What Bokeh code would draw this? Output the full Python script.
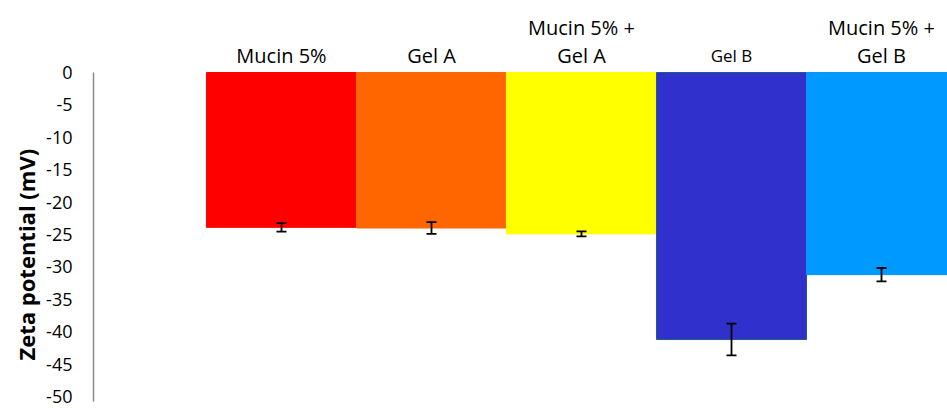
from bokeh.plotting import figure
from bokeh.models import ColumnDataSource, FixedTicker, Whisker, TeeHead, Title, Range1d
from bokeh.core.properties import value
from bokeh.embed import file_html
from bokeh.resources import INLINE

categories = ["Mucin 5%", "Gel A", "Mucin 5% +\nGel A", "Gel B", "Mucin 5% +\nGel B"]
zeta = [-23.9, -24.0, -24.9, -41.2, -31.2]
err = [0.65, 0.9, 0.38, 2.45, 1.03]
colors = ["#FF0000", "#FF6600", "#FFFF00", "#3030CC", "#0099FF"]
outlines = ["#FF0000", "#FF6600", "#FFFF00", "#1F5A8A", "#0099FF"]
label_sizes = ["20px", "20px", "20px", "17px", "20px"]
y_ticks = [0, -5, -10, -15, -20, -25, -30, -35, -40, -45, -50]
y_title = "Zeta potential  (mV)"

FONT = "Open Sans"
xs = list(range(len(categories)))

p = figure(width=947, height=408, output_backend="svg", toolbar_location=None,
           x_range=Range1d(-1.2533, 4.44), y_range=Range1d(-50.93, 11.11),
           min_border_left=93, min_border_right=0, min_border_top=0, min_border_bottom=6)
p.outline_line_color = None
p.xgrid.visible = False
p.ygrid.visible = False
p.xaxis.visible = False

src = ColumnDataSource(dict(x=xs, top=zeta, color=colors, lc=outlines,
                            upper=[v + e for v, e in zip(zeta, err)],
                            lower=[v - e for v, e in zip(zeta, err)]))
p.vbar(x="x", top="top", bottom=0, width=1.0, fill_color="color", line_color="lc",
       line_width=1, source=src)

w = Whisker(source=src, base="x", upper="upper", lower="lower",
            line_color="black", line_width=1.8, level="overlay",
            upper_head=TeeHead(size=10, line_color="black", line_width=1.8),
            lower_head=TeeHead(size=10, line_color="black", line_width=1.8))
p.add_layout(w)

# category labels above bars
for i, (lab, sz) in enumerate(zip(categories, label_sizes)):
    lines = lab.split("\n")
    ys = [2.6] if len(lines) == 1 else [6.9, 2.6]
    for ln, yy in zip(lines, ys):
        p.text(x=[i], y=[yy], text=[ln], text_align="center", text_baseline="middle",
               text_font=value(FONT), text_font_size=sz, text_color="black")

ax = p.yaxis[0]
ax.ticker = FixedTicker(ticks=y_ticks)
ax.major_label_overrides = {t: str(t) for t in y_ticks}
ax.bounds = (-50.8, 0)
ax.axis_line_color = "#8C8C8C"
ax.axis_line_width = 1.5
ax.major_tick_out = 0
ax.major_tick_in = 0
ax.minor_tick_out = 0
ax.minor_tick_in = 0
ax.major_label_standoff = 21
ax.major_label_text_font = FONT
ax.major_label_text_font_size = "18px"
ax.major_label_text_color = "black"

# y title as a side title, anchored near the bottom like the reference
p.add_layout(Title(text=y_title, align="left", offset=42, standoff=6,
                   text_font=FONT, text_font_size="22px", text_font_style="bold",
                   text_color="black"), "left")

open("out.html", "w").write(file_html(p, INLINE))
